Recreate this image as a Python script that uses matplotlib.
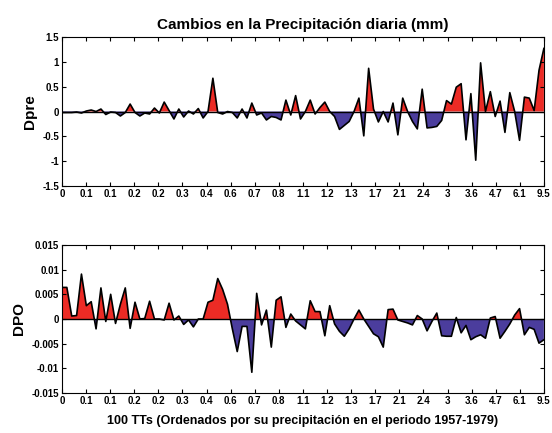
import numpy as np
import matplotlib
matplotlib.use("Agg")
import matplotlib.pyplot as plt

# x tick labels (precipitation of the sorted TTs)
TICK_LABELS = ["0", "0.1", "0.1", "0.2", "0.2", "0.3", "0.4", "0.6", "0.7", "0.8",
               "1.1", "1.2", "1.3", "1.7", "2.1", "2.4", "3", "3.6", "4.7", "6.1", "9.5"]

# change in daily precipitation (mm), 100 TTs
DPRE = [-0.02, -0.02, -0.02, -0.01, -0.03, 0.01, 0.03, 0.0, 0.05, -0.06,
        -0.01, -0.02, -0.09, -0.02, 0.15, -0.02, -0.09, -0.03, -0.05, 0.07,
        -0.03, 0.19, 0.02, -0.15, 0.05, -0.11, 0.01, -0.05, 0.06, -0.13,
        0.0, 0.67, -0.02, -0.05, 0.0, -0.02, -0.13, 0.05, -0.13, 0.17,
        -0.07, -0.03, -0.17, -0.1, -0.12, -0.17, 0.23, -0.07, 0.32, -0.15,
        0.0, 0.23, -0.05, 0.08, 0.19, 0.0, -0.1, -0.36, -0.28, -0.2,
        0.0, 0.27, -0.49, 0.87, 0.05, -0.21, 0.0, -0.21, 0.17, -0.47,
        0.27, 0.0, -0.2, -0.35, 0.45, -0.33, -0.32, -0.3, -0.18, 0.22,
        0.15, 0.49, 0.56, -0.57, 0.36, -0.98, 0.98, 0.0, 0.4, -0.1,
        0.21, -0.42, 0.38, 0.0, -0.58, 0.29, 0.27, 0.02, 0.83, 1.27]

# change in DPO
DPO = [0.0064, 0.0064, 0.0006, 0.0007, 0.0091, 0.0027, 0.0035, -0.002, 0.0063, -0.0005,
       0.005, -0.0009, 0.003, 0.0063, -0.0019, 0.0034, 0.0, 0.0001, 0.0036, 0.0,
       0.0, -0.0002, 0.0032, -0.0002, 0.0006, -0.0011, -0.0002, -0.0016, 0.0, 0.0,
       0.0034, 0.0038, 0.0082, 0.006, 0.003, -0.002, -0.0066, -0.0015, -0.0015, -0.0108,
       0.0052, -0.0012, 0.0018, -0.0057, 0.0038, 0.0045, -0.0017, 0.001, -0.0004, -0.0012,
       -0.002, 0.0037, 0.0015, 0.0015, -0.0034, 0.0027, -0.001, -0.0025, -0.0035, -0.002,
       0.0, 0.0018, 0.0, -0.0015, -0.003, -0.0036, -0.0057, 0.0019, 0.002, -0.0002,
       -0.0005, -0.0008, -0.0012, 0.0007, 0.0, -0.0024, -0.0005, 0.0012, -0.0034, -0.0035,
       -0.0035, 0.0003, -0.0028, -0.0013, -0.0042, -0.0036, -0.0032, -0.0039, 0.0002, 0.0005,
       -0.0039, -0.0025, -0.001, 0.0008, 0.0021, -0.0032, -0.0017, -0.0021, -0.0049, -0.0042]

RED = "#EC2B25"
BLUE = "#4B3D9D"

plt.rcParams["font.family"] = ["Liberation Sans", "DejaVu Sans"]
plt.rcParams["font.weight"] = "bold"

fig = plt.figure(figsize=(5.52, 4.33), dpi=100)
ax1 = fig.add_axes([0.1123, 0.5704, 0.873, 0.3441])
ax2 = fig.add_axes([0.1123, 0.0924, 0.873, 0.3418])

x = np.linspace(0, 100, len(DPRE))


def panel(ax, y, lim, ticks, ticklabels, ylabel):
    y = np.asarray(y)
    ax.fill_between(x, 0, y, where=y >= 0, interpolate=True, color=RED, linewidth=0)
    ax.fill_between(x, 0, y, where=y <= 0, interpolate=True, color=BLUE, linewidth=0)
    ax.plot(x, y, color="black", linewidth=1.2)
    ax.axhline(0, color="black", linewidth=1.0)
    ax.set_xlim(0, 100)
    ax.set_ylim(-lim, lim)
    ax.set_yticks(ticks)
    ax.set_yticklabels(ticklabels, fontsize=7, fontweight="bold")
    ax.set_xticks(np.arange(0, 101, 5))
    ax.set_xticklabels(TICK_LABELS, fontsize=7, fontweight="bold")
    ax.tick_params(direction="in", top=True, right=True, length=3, width=0.8, pad=2)
    for s in ax.spines.values():
        s.set_linewidth(0.8)
    ax.set_ylabel(ylabel, fontsize=11, fontweight="bold", labelpad=4)


panel(ax1, DPRE, 1.5, [-1.5, -1, -0.5, 0, 0.5, 1, 1.5],
      ["-1.5", "-1", "-0.5", "0", "0.5", "1", "1.5"], "Dpre")
panel(ax2, DPO, 0.015, [-0.015, -0.01, -0.005, 0, 0.005, 0.01, 0.015],
      ["-0.015", "-0.01", "-0.005", "0", "0.005", "0.01", "0.015"], "DPO")

ax1.set_title("Cambios en la Precipitación diaria (mm)", fontsize=11, fontweight="bold", pad=6)
ax2.set_xlabel("100 TTs (Ordenados por su precipitación en el periodo 1957-1979)",
               fontsize=9, fontweight="bold", labelpad=7)

fig.savefig("out.png", dpi=100)
